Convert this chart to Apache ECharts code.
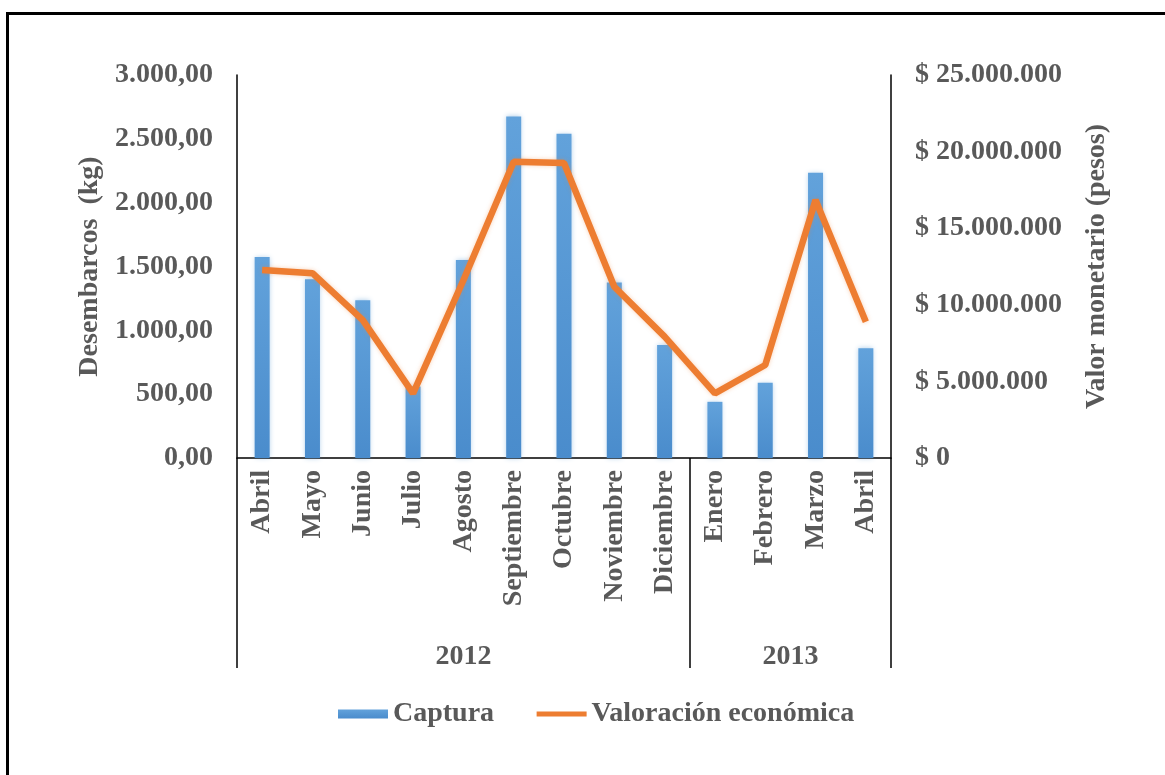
<!DOCTYPE html>
<html>
<head>
<meta charset="utf-8">
<title>Captura y valoración económica</title>
<script src="https://cdn.jsdelivr.net/npm/echarts@6/dist/echarts.min.js"></script>
<style>
  html, body { margin: 0; padding: 0; background: #ffffff; }
  #chart { width: 1165px; height: 775px; }
</style>
</head>
<body>
<div id="chart"></div>
<script>
// Monthly landings (kg) and their economic value (pesos), Apr 2012 – Apr 2013
const months = ['Abril', 'Mayo', 'Junio', 'Julio', 'Agosto', 'Septiembre', 'Octubre',
                'Noviembre', 'Diciembre', 'Enero', 'Febrero', 'Marzo', 'Abril'];
const years = ['2012', '2013'];
const monthsPerYear = [9, 4];
const captura = [1575, 1400, 1235, 560, 1550, 2675, 2540, 1375, 885, 440, 590, 2235, 860];
const valoracion = [12270000, 12060000, 9000000, 4220000, 11600000, 19340000, 19250000,
                    11180000, 7920000, 4220000, 6070000, 16840000, 8900000];

const FONT = "'Liberation Serif', 'Times New Roman', serif";
const GREY = '#595959';

// Group boundaries and centres on a 0..N scale spanning the category bands
const yearEdges = [0];
monthsPerYear.forEach(n => yearEdges.push(yearEdges[yearEdges.length - 1] + n));
const yearCentres = years.map((_, i) => (yearEdges[i] + yearEdges[i + 1]) / 2);

function thousands(n) {
  return String(Math.round(n)).replace(/\B(?=(\d{3})+(?!\d))/g, '.');
}
const fmtKg = v => thousands(v) + ',00';
const fmtPeso = v => '$ ' + thousands(v);

const textBase = { fontFamily: FONT, fontWeight: 'bold', fontSize: 28, color: GREY };

const chart = echarts.init(document.getElementById('chart'), null, { renderer: 'canvas' });
chart.setOption({
  backgroundColor: '#ffffff',
  animation: false,
  // frame: left and top edges visible, the rest runs past the canvas
  graphic: [{
    type: 'rect',
    left: 5, top: 11,
    shape: { width: 1250, height: 850 },
    style: { fill: 'none', stroke: '#000000', lineWidth: 3 },
    silent: true
  }],
  grid: { left: 237, right: 274, top: 75, bottom: 317 },
  legend: {
    left: 333, top: 695,
    itemWidth: 50, itemHeight: 9, itemGap: 40,
    textStyle: Object.assign({}, textBase, { padding: [0, 0, 0, 0] }),
    data: [
      { name: 'Captura', icon: 'rect' },
      {
        name: 'Valoración económica',
        itemStyle: { opacity: 0 },
        lineStyle: { width: 5, color: '#ED7D31' }
      }
    ]
  },
  xAxis: [{
    type: 'category',
    data: months,
    boundaryGap: true,
    axisLine: { show: true, lineStyle: { color: '#000000', width: 1.5 } },
    axisTick: { show: false },
    axisLabel: Object.assign({}, textBase, { rotate: 90, margin: 12, interval: 0 }),
    splitLine: { show: false }
  }, {
    type: 'value',
    min: 0, max: months.length,
    position: 'bottom',
    axisLine: { show: false },
    splitLine: { show: false },
    axisTick: {
      show: true, customValues: yearEdges, length: 210,
      lineStyle: { color: '#000000', width: 1.5 }
    },
    axisLabel: Object.assign({}, textBase, {
      customValues: yearCentres, margin: 185,
      formatter: v => years[yearCentres.indexOf(v)]
    })
  }],
  yAxis: [{
    type: 'value',
    min: 0, max: 3000, interval: 500,
    name: 'Desembarcos  (kg)',
    nameLocation: 'middle', nameRotate: 90, nameGap: 121,
    nameTextStyle: textBase,
    axisLine: { show: true, lineStyle: { color: '#000000', width: 1.5 } },
    axisTick: { show: false },
    splitLine: { show: false },
    axisLabel: Object.assign({}, textBase, { margin: 24, formatter: fmtKg })
  }, {
    type: 'value',
    min: 0, max: 25000000, interval: 5000000,
    position: 'right',
    name: 'Valor monetario (pesos)',
    nameLocation: 'middle', nameRotate: 90, nameGap: 192,
    nameTextStyle: textBase,
    axisLine: { show: true, lineStyle: { color: '#000000', width: 1.5 } },
    axisTick: { show: false },
    splitLine: { show: false },
    axisLabel: Object.assign({}, textBase, { margin: 24, formatter: fmtPeso })
  }],
  series: [{
    name: 'Captura',
    type: 'bar',
    xAxisIndex: 0, yAxisIndex: 0,
    data: captura,
    barWidth: 15,
    itemStyle: {
      color: new echarts.graphic.LinearGradient(0, 0, 0, 1, [
        { offset: 0, color: '#62a2db' },
        { offset: 1, color: '#4a8ccc' }
      ]),
      shadowBlur: 5,
      shadowColor: 'rgba(91,155,213,0.5)'
    },
    z: 2
  }, {
    name: 'Valoración económica',
    type: 'line',
    xAxisIndex: 0, yAxisIndex: 1,
    data: valoracion,
    symbol: 'none',
    lineStyle: { color: '#ED7D31', width: 6.5, shadowBlur: 4, shadowColor: 'rgba(237,125,49,0.35)' },
    itemStyle: { color: '#ED7D31' },
    z: 3
  }]
});
</script>
</body>
</html>
